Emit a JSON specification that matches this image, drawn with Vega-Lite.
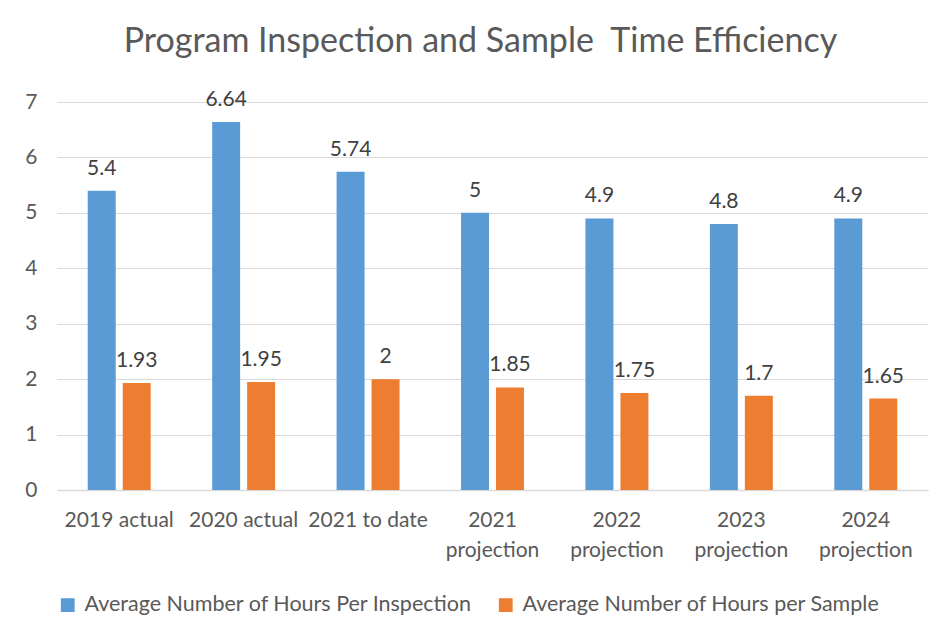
{
  "$schema": "https://vega.github.io/schema/vega-lite/v6.json",
  "width": 871,
  "height": 388,
  "autosize": {"type": "none"},
  "padding": {"left": 57, "top": 102, "right": 24, "bottom": 151},
  "background": "white",
  "title": {
    "text": "Program Inspection and Sample\u00a0 Time Efficiency",
    "font": "Lato",
    "fontSize": 34,
    "fontWeight": "normal",
    "color": "#595959",
    "anchor": "middle",
    "dx": -12,
    "offset": 30
  },
  "data": {
    "values": [
      {"cat": "2019 actual", "series": "Average Number of Hours Per Inspection", "value": 5.4},
      {"cat": "2020 actual", "series": "Average Number of Hours Per Inspection", "value": 6.64},
      {"cat": "2021 to date", "series": "Average Number of Hours Per Inspection", "value": 5.74},
      {"cat": "2021 projection", "series": "Average Number of Hours Per Inspection", "value": 5},
      {"cat": "2022 projection", "series": "Average Number of Hours Per Inspection", "value": 4.9},
      {"cat": "2023 projection", "series": "Average Number of Hours Per Inspection", "value": 4.8},
      {"cat": "2024 projection", "series": "Average Number of Hours Per Inspection", "value": 4.9},
      {"cat": "2019 actual", "series": "Average Number of Hours per Sample", "value": 1.93},
      {"cat": "2020 actual", "series": "Average Number of Hours per Sample", "value": 1.95},
      {"cat": "2021 to date", "series": "Average Number of Hours per Sample", "value": 2},
      {"cat": "2021 projection", "series": "Average Number of Hours per Sample", "value": 1.85},
      {"cat": "2022 projection", "series": "Average Number of Hours per Sample", "value": 1.75},
      {"cat": "2023 projection", "series": "Average Number of Hours per Sample", "value": 1.7},
      {"cat": "2024 projection", "series": "Average Number of Hours per Sample", "value": 1.65}
    ]
  },
  "encoding": {
    "x": {
      "field": "cat",
      "type": "nominal",
      "sort": null,
      "scale": {"paddingInner": 0.494, "paddingOuter": 0.247},
      "axis": {
        "title": null,
        "labelAngle": 0,
        "labelFont": "Lato",
        "labelFontSize": 21,
        "labelColor": "#595959",
        "labelPadding": 19,
        "labelLineHeight": 30,
        "labelExpr": "indexof(datum.label, 'projection') > 0 ? [split(datum.label, ' ')[0], 'projection'] : datum.label",
        "ticks": false,
        "domainColor": "#d9d9d9",
        "domainWidth": 1.5,
        "grid": false
      }
    },
    "xOffset": {
      "field": "series",
      "type": "nominal",
      "scale": {"paddingInner": 0.2}
    },
    "y": {
      "field": "value",
      "type": "quantitative",
      "scale": {"domain": [0, 7], "nice": false},
      "axis": {
        "title": null,
        "values": [0, 1, 2, 3, 4, 5, 6, 7],
        "labelOverlap": false,
        "labelFlush": false,
        "labelFont": "Lato",
        "labelFontSize": 21,
        "labelColor": "#595959",
        "labelPadding": 20,
        "ticks": false,
        "domain": false,
        "gridColor": "#d9d9d9",
        "gridWidth": 1.2
      }
    }
  },
  "layer": [
    {
      "mark": {"type": "bar"},
      "encoding": {
        "color": {
          "field": "series",
          "type": "nominal",
          "scale": {"range": ["#5b9bd5", "#ed7d31"]},
          "legend": {
            "title": null,
            "orient": "bottom",
            "direction": "horizontal",
            "symbolType": "square",
            "symbolSize": 190,
            "symbolStrokeWidth": 0,
            "labelFont": "Lato",
            "labelFontSize": 21.5,
            "labelColor": "#595959",
            "labelLimit": 600,
            "labelOffset": 6,
            "columnPadding": 22,
            "offset": 34
          }
        }
      }
    },
    {
      "mark": {"type": "text", "baseline": "bottom", "dy": -12, "font": "Lato", "fontSize": 21, "color": "#404040"},
      "encoding": {
        "text": {"field": "value", "type": "quantitative"}
      }
    }
  ],
  "config": {"view": {"stroke": null}}
}
